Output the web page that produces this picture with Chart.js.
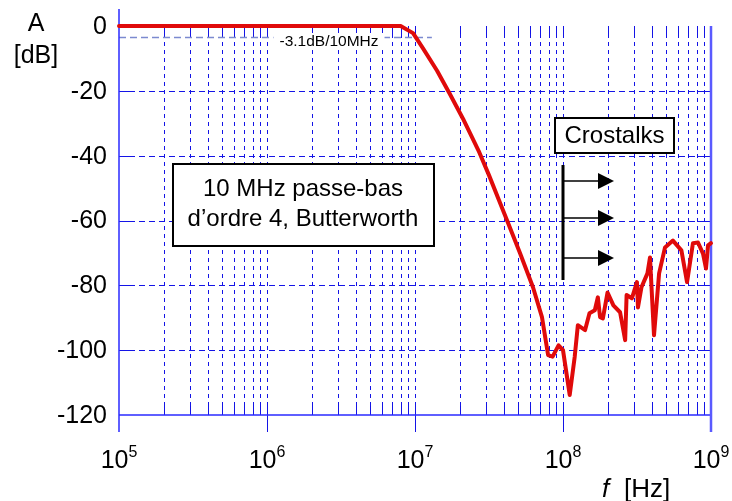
<!DOCTYPE html>
<html><head><meta charset="utf-8">
<script src="https://cdn.jsdelivr.net/npm/chart.js@4"></script>
<style>html,body{margin:0;padding:0;background:#fff;}</style>
</head><body>
<canvas id="c" width="732" height="501"></canvas>
<script>
// ---- data ----
const freqHz = [1e5, 8.0e6, 9.7e6, 1.13e7, 1.41e7, 1.72e7, 2.11e7, 2.69e7, 3.16e7, 3.7e7, 4.19e7, 5.12e7, 6.27e7, 7.21e7, 7.93e7, 8.51e7, 9.33e7, 1.0e8, 1.11e8, 1.2e8, 1.26e8, 1.41e8, 1.51e8, 1.64e8, 1.72e8, 1.78e8, 1.86e8, 2.0e8, 2.19e8, 2.43e8, 2.63e8, 2.69e8, 2.92e8, 3.16e8, 3.21e8, 3.39e8, 3.72e8, 3.87e8, 4.12e8, 4.46e8, 4.89e8, 5.53e8, 6.31e8, 6.89e8, 7.55e8, 8.17e8, 8.83e8, 9.25e8, 9.55e8, 1e9];
const ampDb = [0, 0, -2.2, -6.8, -13.8, -21, -28.6, -38.5, -46, -53.8, -60, -70, -80.6, -89.8, -101.5, -102, -98.5, -100, -113.8, -102, -92.3, -93.8, -88.6, -87.7, -83.7, -89.8, -90.2, -82.2, -86.2, -88.3, -96.9, -83, -84, -79, -86.8, -80.6, -76.3, -71.4, -95.4, -76.3, -68.3, -66.2, -69.2, -79, -67, -66.8, -70.2, -74.8, -67.7, -67];
const yTicks = [0, -20, -40, -60, -80, -100, -120];
const xDecades = [1e5, 1e6, 1e7, 1e8, 1e9];
const xExponents = ['5', '6', '7', '8', '9'];
const cutoffDb = -3.1;
const cutoffLabel = '-3.1dB/10MHz';
const filterLabel = ['10 MHz passe-bas', 'd\u2019ordre 4, Butterworth'];
const crossLabel = 'Crostalks';

const FONT = '"Liberation Sans", Arial, sans-serif';
const BLUE = '#1414e6';

function seg(ctx, x1, y1, x2, y2) { ctx.beginPath(); ctx.moveTo(x1, y1); ctx.lineTo(x2, y2); ctx.stroke(); }

const gridPlugin = {
  id: 'gridPlugin',
  beforeDatasetsDraw(chart) {
    const { ctx, chartArea: a, scales: { x, y } } = chart;
    ctx.save();
    ctx.lineWidth = 1;
    ctx.strokeStyle = BLUE;
    for (let d = 5; d < 9; d++) {
      for (let m = 1; m < 10; m++) {
        const f = m * Math.pow(10, d);
        if (f <= 1e5) continue;
        const px = Math.round(x.getPixelForValue(f)) + 0.5;
        ctx.setLineDash([4, 4]);
        seg(ctx, px, a.top, px, a.bottom);
        ctx.setLineDash([]);
        seg(ctx, px, a.bottom - 9, px, a.bottom);
        seg(ctx, px, a.top, px, a.top + 8);
        if (m === 1) seg(ctx, px, a.bottom, px, a.bottom + 17);
      }
    }
    for (const v of yTicks) {
      if (v === 0 || v === -120) continue;
      const py = Math.round(y.getPixelForValue(v)) + 0.5;
      ctx.setLineDash([6, 4]);
      seg(ctx, a.left, py, a.right, py);
      ctx.setLineDash([]);
      seg(ctx, a.left, py, a.left + 13, py);
      seg(ctx, a.right - 13, py, a.right, py);
    }
    // -3.1 dB reference line
    ctx.strokeStyle = '#7c8ad0';
    ctx.lineWidth = 1.5;
    ctx.setLineDash([7, 4]);
    const cy = y.getPixelForValue(cutoffDb) + 1.5;
    seg(ctx, a.left, cy, x.getPixelForValue(1.3e7), cy);
    ctx.setLineDash([]);
    // axes
    ctx.strokeStyle = '#2a2aff';
    ctx.lineWidth = 1.5;
    seg(ctx, a.left, 9, a.left, a.bottom + 17);
    seg(ctx, a.left, a.bottom, a.right, a.bottom);
    ctx.strokeStyle = '#5a5aff';
    ctx.lineWidth = 2.5;
    seg(ctx, a.right, a.top, a.right, a.bottom + 17);
    ctx.restore();
  },
  afterDraw(chart) {
    const { ctx, chartArea: a, scales: { x, y } } = chart;
    ctx.save();
    ctx.fillStyle = '#000';
    // y tick labels
    ctx.font = '25px ' + FONT;
    ctx.textAlign = 'right';
    ctx.textBaseline = 'middle';
    for (const v of yTicks) ctx.fillText(String(v), 107, y.getPixelForValue(v) + 1);
    // x tick labels 10^n
    for (let i = 0; i < xDecades.length; i++) {
      const px = x.getPixelForValue(xDecades[i]);
      ctx.font = '25px ' + FONT;
      const w1 = ctx.measureText('10').width;
      ctx.font = '16px ' + FONT;
      const w2 = ctx.measureText(xExponents[i]).width;
      const x0 = px - (w1 + w2) / 2;
      ctx.textAlign = 'left';
      ctx.textBaseline = 'alphabetic';
      ctx.font = '25px ' + FONT;
      ctx.fillText('10', x0, 468);
      ctx.font = '16px ' + FONT;
      ctx.fillText(xExponents[i], x0 + w1, 457);
    }
    // axis titles
    ctx.font = '25px ' + FONT;
    ctx.textAlign = 'center';
    ctx.textBaseline = 'middle';
    ctx.fillText('A', 36, 24);
    ctx.fillText('[dB]', 36, 56);
    ctx.textAlign = 'left';
    ctx.textBaseline = 'alphabetic';
    ctx.font = 'italic 26px ' + FONT;
    ctx.fillText('f', 602, 497);
    ctx.font = '26px ' + FONT;
    ctx.fillText('[Hz]', 624, 497);
    // cutoff label
    ctx.font = '15.5px ' + FONT;
    ctx.textAlign = 'center';
    ctx.textBaseline = 'middle';
    const tw = ctx.measureText(cutoffLabel).width;
    ctx.fillStyle = '#fff';
    ctx.fillRect(329 - tw / 2 - 6, 33, tw + 12, 15);
    ctx.fillStyle = '#000';
    ctx.fillText(cutoffLabel, 329, 42);
    // filter description box
    ctx.lineWidth = 2;
    ctx.strokeStyle = '#000';
    ctx.fillStyle = '#fff';
    ctx.fillRect(173, 164, 261, 82);
    ctx.strokeRect(173, 164, 261, 82);
    ctx.fillStyle = '#000';
    ctx.font = '24px ' + FONT;
    ctx.fillText(filterLabel[0], 303, 189);
    ctx.fillText(filterLabel[1], 303, 219);
    // crosstalk box
    ctx.fillStyle = '#fff';
    ctx.fillRect(555, 118, 119, 35);
    ctx.strokeRect(555, 118, 119, 35);
    ctx.fillStyle = '#000';
    ctx.fillText(crossLabel, 614.5, 136);
    // vertical bar + arrows
    const bx = x.getPixelForValue(1e8);
    ctx.lineWidth = 3;
    seg(ctx, bx, 165, bx, 280);
    ctx.lineWidth = 1.5;
    for (const ay of [181, 218, 258]) {
      seg(ctx, bx, ay, 600, ay);
      ctx.beginPath();
      ctx.moveTo(614, ay);
      ctx.lineTo(598, ay - 8);
      ctx.lineTo(598, ay + 8);
      ctx.closePath();
      ctx.fill();
    }
    ctx.restore();
  }
};

new Chart(document.getElementById('c'), {
  type: 'line',
  data: {
    datasets: [{
      data: freqHz.map((f, i) => ({ x: f, y: ampDb[i] })),
      borderColor: '#e00a0a',
      borderWidth: 4,
      pointRadius: 0,
      tension: 0,
      fill: false,
      clip: false,
      borderJoinStyle: 'round',
      borderCapStyle: 'round'
    }]
  },
  options: {
    responsive: false,
    animation: false,
    devicePixelRatio: 1,
    layout: { padding: { left: 119, right: 21, top: 26, bottom: 86 } },
    plugins: { legend: { display: false }, tooltip: { enabled: false } },
    scales: {
      x: { type: 'logarithmic', min: 1e5, max: 1e9, display: false },
      y: { type: 'linear', min: -120, max: 0, display: false }
    }
  },
  plugins: [gridPlugin]
});
</script>
</body></html>
